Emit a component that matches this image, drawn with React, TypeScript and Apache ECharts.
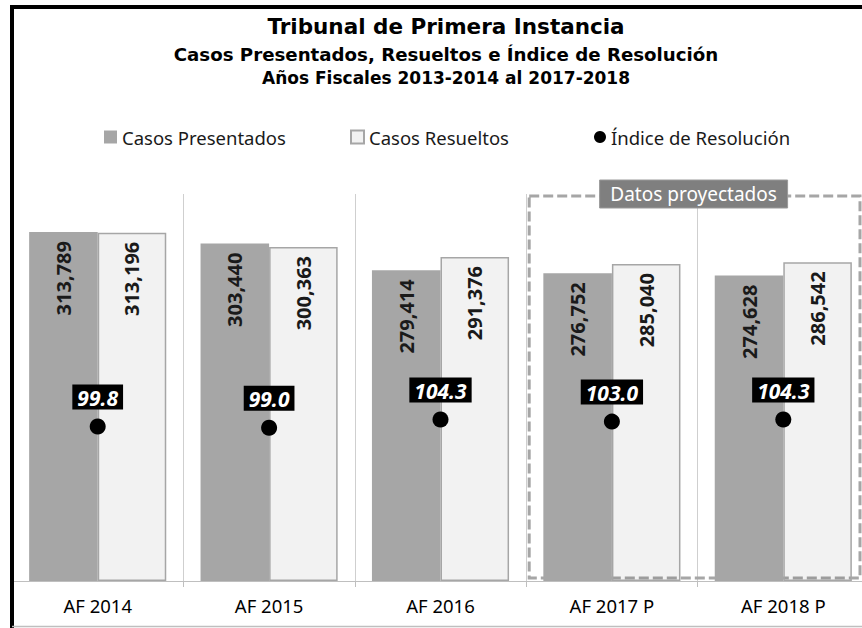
import React, { useEffect, useRef } from "react";
import * as echarts from "echarts";

const categories = ["AF 2014", "AF 2015", "AF 2016", "AF 2017 P", "AF 2018 P"];
const casosPresentados = [313789, 303440, 279414, 276752, 274628];
const casosResueltos = [313196, 300363, 291376, 285040, 286542];
const indiceResolucion = [99.8, 99.0, 104.3, 103.0, 104.3];

const titleLines = [
  "Tribunal de Primera Instancia",
  "Casos Presentados, Resueltos e Índice de Resolución",
  "Años Fiscales 2013-2014 al 2017-2018",
];
const projectedLabel = "Datos proyectados";

const Y_MAX = 348000;
const Y2_MAX = 250;

const SANS = "'Noto Sans', 'DejaVu Sans', sans-serif";
const TITLE_FONT = "'DejaVu Sans', 'Noto Sans', sans-serif";

export default function App() {
  const ref = useRef<HTMLDivElement>(null);

  useEffect(() => {
    if (!ref.current) return;
    const chart = echarts.init(ref.current, null, { renderer: "svg" });

    const legendText = { fontSize: 18.5, color: "#1a1a1a", fontFamily: SANS, lineHeight: 22 };
    const barLabel = {
      show: true,
      position: "insideTop",
      rotate: 90,
      align: "right",
      verticalAlign: "middle",
      distance: 9,
      fontSize: 20,
      fontWeight: "bold",
      fontFamily: SANS,
      color: "#1a1a1a",
      formatter: (p: any) => Number(p.value).toLocaleString("en-US"),
    };

    chart.setOption({
      animation: false,
      backgroundColor: "#ffffff",
      legend: [
        {
          data: ["Casos Presentados"],
          left: 104,
          top: 126,
          padding: 0,
          itemWidth: 13,
          itemHeight: 13,
          icon: "rect",
          textStyle: legendText,
        },
        {
          data: ["Casos Resueltos"],
          left: 350,
          top: 126,
          padding: 0,
          itemWidth: 13,
          itemHeight: 13,
          icon: "rect",
          textStyle: legendText,
        },
        {
          data: ["Índice de Resolución"],
          left: 594,
          top: 126,
          padding: 0,
          itemWidth: 12,
          itemHeight: 12,
          icon: "circle",
          textStyle: legendText,
        },
      ],
      grid: { left: 12, right: 0, top: 194, bottom: 47, containLabel: false },
      xAxis: {
        type: "category",
        data: categories,
        boundaryGap: true,
        axisLine: { show: true, lineStyle: { color: "#bfbfbf", width: 1 } },
        axisTick: { show: true, length: 6, lineStyle: { color: "#bfbfbf" } },
        splitLine: { show: true, lineStyle: { color: "#cfcfcf", width: 1 } },
        axisLabel: { fontSize: 18.5, color: "#000", fontFamily: SANS, margin: 15 },
      },
      yAxis: [
        { type: "value", min: 0, max: Y_MAX, show: false, splitLine: { show: false } },
        { type: "value", min: 0, max: Y2_MAX, show: false, splitLine: { show: false } },
      ],
      series: [
        {
          name: "Casos Presentados",
          type: "bar",
          yAxisIndex: 0,
          data: casosPresentados,
          barWidth: "40%",
          barGap: "0%",
          z: 3,
          itemStyle: { color: "#a6a6a6" },
          label: barLabel,
        },
        {
          name: "Casos Resueltos",
          type: "bar",
          yAxisIndex: 0,
          data: casosResueltos,
          barWidth: "40%",
          barGap: "0%",
          z: 3,
          itemStyle: { color: "rgba(0,0,0,0.05)", borderColor: "#a6a6a6", borderWidth: 1.5 },
          label: barLabel,
        },
        {
          name: "Índice de Resolución",
          type: "scatter",
          yAxisIndex: 1,
          data: indiceResolucion,
          symbol: "circle",
          symbolSize: 16,
          z: 6,
          itemStyle: { color: "#000", opacity: 1 },
          label: {
            show: true,
            position: "top",
            distance: 9,
            fontSize: 21,
            fontWeight: "bold",
            fontStyle: "italic",
            fontFamily: SANS,
            color: "#fff",
            backgroundColor: "#000",
            padding: [2, 5, 1, 5],
            lineHeight: 22,
            formatter: (p: any) => Number(p.value).toFixed(1),
          },
        },
      ],
    });

    const p3 = chart.convertToPixel({ gridIndex: 0 }, [categories[3], 0]) as number[];
    const p4 = chart.convertToPixel({ gridIndex: 0 }, [categories[4], Y_MAX]) as number[];
    const band = p4[0] - p3[0];
    const yBottom = p3[1];
    const yTop = p4[1];
    const boxLeft = p3[0] - band / 2 + 3;
    const boxRight = p4[0] + band / 2 - 9;
    const labelCx = p3[0] + band / 2 - 4;

    chart.setOption({
      graphic: {
        elements: [
          {
            type: "line",
            z: 50,
            shape: { x1: 10, y1: 7, x2: 880, y2: 7 },
            style: { stroke: "#000", lineWidth: 4 },
          },
          {
            type: "line",
            z: 50,
            shape: { x1: 12, y1: 5, x2: 12, y2: 640 },
            style: { stroke: "#000", lineWidth: 4 },
          },
          {
            type: "line",
            z: 50,
            shape: { x1: 12, y1: 626.5, x2: 880, y2: 626.5 },
            style: { stroke: "#bfbfbf", lineWidth: 1.5 },
          },
          {
            type: "text",
            x: 446,
            y: 26,
            style: {
              text: titleLines[0],
              fontSize: 21.5,
              fontWeight: "bold",
              fontFamily: TITLE_FONT,
              fill: "#000",
              textAlign: "center",
              textVerticalAlign: "middle",
            },
          },
          {
            type: "text",
            x: 446,
            y: 54,
            style: {
              text: titleLines[1],
              fontSize: 18.2,
              fontWeight: "bold",
              fontFamily: TITLE_FONT,
              fill: "#000",
              textAlign: "center",
              textVerticalAlign: "middle",
            },
          },
          {
            type: "text",
            x: 446,
            y: 78,
            style: {
              text: titleLines[2],
              fontSize: 17,
              fontWeight: "bold",
              fontFamily: TITLE_FONT,
              fill: "#000",
              textAlign: "center",
              textVerticalAlign: "middle",
            },
          },
          {
            type: "rect",
            z: 1,
            shape: {
              x: boxLeft,
              y: yTop + 2,
              width: boxRight - boxLeft,
              height: yBottom - 3 - (yTop + 2),
            },
            style: { fill: "none", stroke: "#a6a6a6", lineWidth: 3, lineDash: [10, 4] },
          },
          {
            type: "rect",
            z: 60,
            shape: { x: labelCx - 94, y: yTop - 14, width: 188, height: 28 },
            style: { fill: "#7f7f7f", stroke: "#9a9a9a", lineWidth: 1 },
          },
          {
            type: "text",
            z: 61,
            x: labelCx,
            y: yTop,
            style: {
              text: projectedLabel,
              fontSize: 19,
              fontFamily: SANS,
              fill: "#fff",
              textAlign: "center",
              textVerticalAlign: "middle",
            },
          },
        ],
      },
    });

    return () => {
      chart.dispose();
    };
  }, []);

  return (
    <div
      style={{
        position: "absolute",
        left: 0,
        top: 0,
        width: 862,
        height: 628,
        overflow: "hidden",
      }}
    >
      <div ref={ref} style={{ width: 869, height: 628 }} />
    </div>
  );
}
